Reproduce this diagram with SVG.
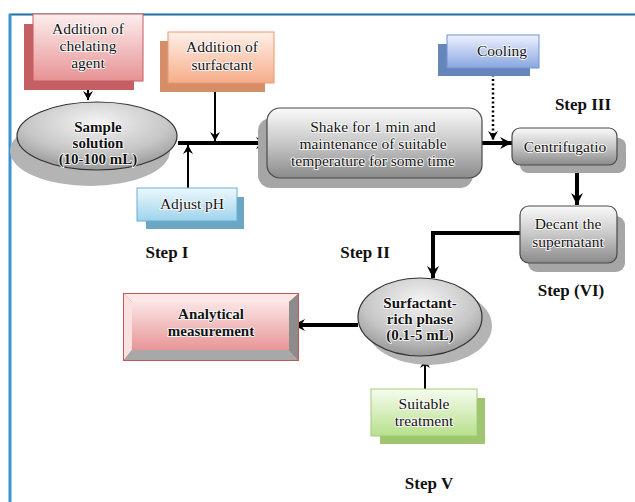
<svg xmlns="http://www.w3.org/2000/svg" width="635" height="502" viewBox="0 0 635 502">
<defs>
<linearGradient id="gRed" x1="0" y1="0" x2="0" y2="1"><stop offset="0" stop-color="#fdeeee"/><stop offset="1" stop-color="#e79294"/></linearGradient>
<linearGradient id="gOrange" x1="0" y1="0" x2="0" y2="1"><stop offset="0" stop-color="#fff0e8"/><stop offset="1" stop-color="#f6ad8a"/></linearGradient>
<linearGradient id="gBlue" x1="0" y1="0" x2="0" y2="1"><stop offset="0" stop-color="#eef8fd"/><stop offset="1" stop-color="#9ed3ec"/></linearGradient>
<linearGradient id="gCool" x1="0" y1="0" x2="0" y2="1"><stop offset="0" stop-color="#eef2ff"/><stop offset="1" stop-color="#88a6e0"/></linearGradient>
<linearGradient id="gGreen" x1="0" y1="0" x2="0" y2="1"><stop offset="0" stop-color="#f6fcee"/><stop offset="1" stop-color="#b6e08c"/></linearGradient>
<linearGradient id="gGray" x1="0" y1="0" x2="0" y2="1"><stop offset="0" stop-color="#fafafa"/><stop offset="0.5" stop-color="#c8c8c8"/><stop offset="1" stop-color="#8a8a8a"/></linearGradient>
<radialGradient id="gEll" cx="0.5" cy="0.3" r="0.75"><stop offset="0" stop-color="#f4f4f4"/><stop offset="0.6" stop-color="#c6c6c6"/><stop offset="1" stop-color="#8e8e8e"/></radialGradient>
<linearGradient id="gPink" x1="0" y1="0" x2="0" y2="1"><stop offset="0" stop-color="#fbe4e4"/><stop offset="1" stop-color="#e89596"/></linearGradient>
<marker id="ah" markerUnits="userSpaceOnUse" markerWidth="14" markerHeight="14" refX="12" refY="7" orient="auto"><path d="M0,1 L12,7 L0,13 L4,7 z" fill="#000"/></marker>
<marker id="ahs" markerUnits="userSpaceOnUse" markerWidth="10" markerHeight="10" refX="9" refY="5" orient="auto"><path d="M0,0 L9,5 L0,10 L3,5 z" fill="#000"/></marker>
</defs>
<style>
text{font-family:"Liberation Serif","Times New Roman",serif;font-size:15.5px;fill:#111;text-anchor:middle;paint-order:stroke;stroke:#fff;stroke-width:1.6px;stroke-linejoin:round}
.b{font-weight:bold;font-size:15px}
.step{font-weight:bold;font-size:17px;stroke:none}
.thick{stroke:#000;stroke-width:4;fill:none}
.thin{stroke:#000;stroke-width:2;fill:none}
</style>
<rect width="635" height="502" fill="#fff"/>
<!-- frame -->
<line x1="9" y1="14.5" x2="635" y2="14.5" stroke="#1d6e9e" stroke-width="2"/>
<line x1="10" y1="14" x2="10" y2="502" stroke="#3c93d2" stroke-width="3"/>

<g id="connectors">
<line class="thin" x1="88" y1="81" x2="88" y2="100" marker-end="url(#ahs)"/>
<line class="thick" x1="178" y1="143" x2="268" y2="143" marker-end="url(#ah)"/>
<line class="thin" x1="215" y1="78" x2="215" y2="141" marker-end="url(#ahs)"/>
<line class="thin" x1="188" y1="188" x2="188" y2="145" marker-end="url(#ahs)"/>
<line class="thick" x1="482" y1="143" x2="512" y2="143" marker-end="url(#ah)"/>
<line x1="493" y1="70" x2="493" y2="140" stroke="#000" stroke-width="2.5" stroke-dasharray="2,2.5" marker-end="url(#ahs)"/>
<line class="thick" x1="577" y1="165" x2="577" y2="205" marker-end="url(#ah)"/>
<polyline class="thick" points="520,233 433,233 433,278" marker-end="url(#ah)"/>
<line class="thick" x1="358" y1="325" x2="293" y2="325" marker-end="url(#ah)"/>
<line class="thin" x1="425" y1="389" x2="425" y2="359" marker-end="url(#ahs)"/>
</g>

<g id="chelating">
<rect x="24" y="24" width="110" height="66" fill="#c46064"/>
<rect x="33" y="14" width="110" height="67" fill="url(#gRed)" stroke="#c85a5e" stroke-width="1"/>
<text x="88" y="34">Addition of</text>
<text x="88" y="51">chelating</text>
<text x="88" y="68">agent</text>
</g>

<g id="sample">
<ellipse cx="90" cy="151" rx="80" ry="35" fill="#b4b4b4"/>
<ellipse cx="97" cy="136" rx="80" ry="34" fill="url(#gEll)" stroke="#333" stroke-width="1.2"/>
<text class="b" x="98" y="132">Sample</text>
<text class="b" x="98" y="148">solution</text>
<text class="b" x="98" y="164">(10-100 mL)</text>
</g>

<g id="surfactant">
<rect x="160" y="41" width="105" height="51" fill="#d58e68"/>
<rect x="168" y="32" width="106" height="51" fill="url(#gOrange)" stroke="#e59a74" stroke-width="1"/>
<text x="222" y="52">Addition of</text>
<text x="222" y="70">surfactant</text>
</g>

<g id="adjustph">
<rect x="146" y="197" width="98" height="32" fill="#6ba7c2"/>
<rect x="137" y="188" width="100" height="33" fill="url(#gBlue)" stroke="#64b2d2" stroke-width="1"/>
<text x="192" y="209">Adjust pH</text>
</g>

<g id="shake">
<rect x="258" y="118" width="215" height="70" rx="13" fill="#a6a6a6"/>
<rect x="267" y="108" width="215" height="70" rx="13" fill="url(#gGray)" stroke="#4a4a4a" stroke-width="1.2"/>
<text x="373" y="132">Shake for 1 min and</text>
<text x="373" y="149">maintenance of suitable</text>
<text x="373" y="166">temperature for some time</text>
</g>

<g id="cooling">
<rect x="438" y="44" width="92" height="32" fill="#6585bb"/>
<rect x="447" y="35" width="92" height="33" fill="url(#gCool)" stroke="#7392d2" stroke-width="1"/>
<text x="502" y="56">Cooling</text>
</g>

<g id="centrifugation">
<rect x="520" y="138" width="106" height="35" rx="8" fill="#a6a6a6"/>
<rect x="512" y="128" width="105" height="37" rx="8" fill="url(#gGray)" stroke="#4a4a4a" stroke-width="1.2"/>
<text x="565" y="152">Centrifugatio</text>
</g>

<g id="decant">
<rect x="528" y="216" width="97" height="56" rx="9" fill="#a6a6a6"/>
<rect x="520" y="206" width="97" height="57" rx="9" fill="url(#gGray)" stroke="#4a4a4a" stroke-width="1.2"/>
<text x="568" y="229">Decant the</text>
<text x="568" y="247">supernatant</text>
</g>

<g id="richphase">
<ellipse cx="429" cy="326" rx="63" ry="39" fill="#b4b4b4"/>
<ellipse cx="420" cy="317" rx="62" ry="39" fill="url(#gEll)" stroke="#333" stroke-width="1.2"/>
<text class="b" x="420" y="308">Surfactant-</text>
<text class="b" x="420" y="324">rich phase</text>
<text class="b" x="420" y="340">(0.1-5 mL)</text>
</g>

<g id="analytical">
<rect x="123" y="293" width="176" height="68" fill="#c45858"/>
<polygon points="124,294 298,294 289,302 132,302" fill="#fde8e8"/>
<polygon points="124,294 132,302 132,350 124,360" fill="#fbe0e0"/>
<polygon points="298,294 298,360 289,350 289,302" fill="#8c8c8c"/>
<polygon points="124,360 298,360 289,350 132,350" fill="#a8a8a8"/>
<rect x="132" y="302" width="157" height="48" fill="url(#gPink)"/>
<text class="b" x="211" y="319">Analytical</text>
<text class="b" x="211" y="336">measurement</text>
</g>

<g id="treatment">
<rect x="380" y="398" width="105" height="46" fill="#9fc571"/>
<rect x="371" y="389" width="106" height="47" fill="url(#gGreen)" stroke="#a2cc78" stroke-width="1"/>
<text x="424" y="409">Suitable</text>
<text x="424" y="426">treatment</text>
</g>

<g id="labels">
<text class="step" x="167" y="258">Step I</text>
<text class="step" x="365" y="258">Step II</text>
<text class="step" x="583" y="110">Step III</text>
<text class="step" x="571" y="296">Step (VI)</text>
<text class="step" x="429" y="489">Step V</text>
</g>
</svg>
